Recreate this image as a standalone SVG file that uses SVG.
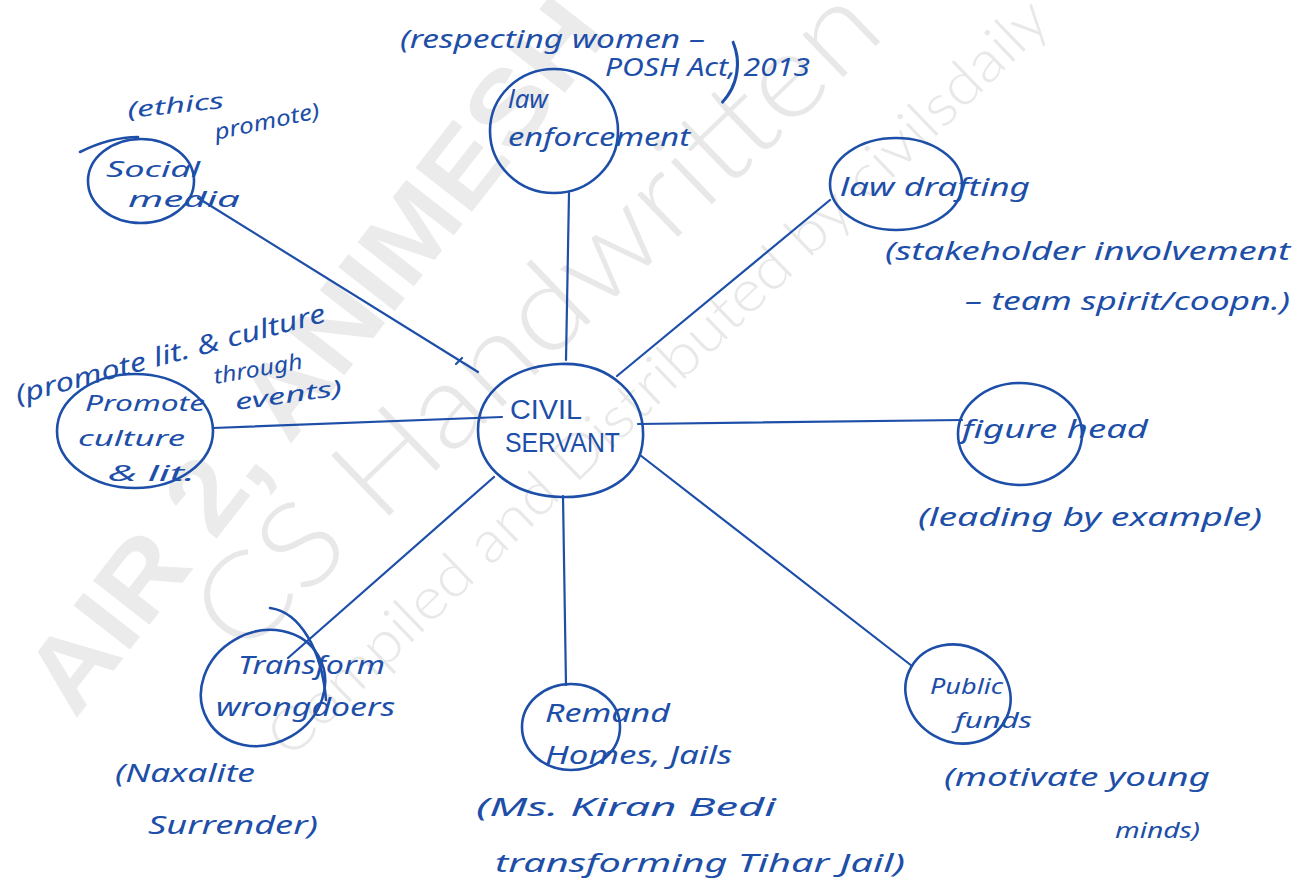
<svg xmlns="http://www.w3.org/2000/svg" width="1307" height="896" viewBox="0 0 1307 896">
  <style>
    .ink { fill: none; stroke: #1d4ea8; stroke-width: 2.6; stroke-linecap: round; }
    .wire { fill: none; stroke: #1d4ea8; stroke-width: 2.2; stroke-linecap: round; }
    .t { fill: #1d4ea8; font-family: "Noto Sans", "Liberation Sans", sans-serif; font-size: 26px; font-style: italic; }
    .s { font-size: 22px; }
    .c { fill: #1d4ea8; font-family: "Liberation Sans", sans-serif; font-size: 27px; }
    .br { fill: #1d4ea8; font-family: "Lato", "Roboto", sans-serif; font-weight: 300; }
    .wm1 { fill: #ebebeb; font-family: "Liberation Sans", sans-serif; font-weight: bold; font-size: 104px; }
    .wm2 { fill: #e8e8e8; font-family: "Lato", "Roboto", sans-serif; font-weight: 300; font-size: 118px; }
    .wm3 { fill: #e8e8e8; font-family: "Lato", "Roboto", sans-serif; font-weight: 300; font-size: 58px; }
  </style>
  <rect width="1307" height="896" fill="#ffffff"/>

  <!-- background watermark lettering -->
  <g id="watermark">
    <text class="wm1" transform="translate(75,720) rotate(-52)" textLength="870" lengthAdjust="spacingAndGlyphs">AIR 2, ANIMESH</text>
    <text class="wm2" transform="translate(240,660) rotate(-44)" textLength="900" lengthAdjust="spacingAndGlyphs">CS Handwritten</text>
    <text class="wm3" transform="translate(290,760) rotate(-44)" textLength="1060" lengthAdjust="spacingAndGlyphs">Compiled and Distributed by civilsdaily</text>
  </g>

  <!-- spokes from the central node -->
  <g id="connectors">
    <path class="wire" d="M198,198 L478,372"/>
    <path class="wire" d="M456,364 L462,358"/>
    <path class="wire" d="M569,193 L566,360"/>
    <path class="wire" d="M830,200 L617,376"/>
    <path class="wire" d="M213,428 L502,417"/>
    <path class="wire" d="M638,424 L962,420"/>
    <path class="wire" d="M640,455 L912,666"/>
    <path class="wire" d="M563,496 L566,685"/>
    <path class="wire" d="M494,477 L288,658"/>
  </g>

  <g id="civil-servant">
    <path class="ink" d="M560,364 C610,362 645,395 643,438 C641,478 605,498 562,497 C515,496 478,470 478,430 C478,392 512,366 560,364 Z"/>
    <text class="c" x="510" y="419" textLength="72" lengthAdjust="spacingAndGlyphs">CIVIL</text>
    <text class="c" x="505" y="452" textLength="115" lengthAdjust="spacingAndGlyphs">SERVANT</text>
  </g>

  <g id="social-media">
    <ellipse class="ink" cx="141" cy="181" rx="53" ry="42"/>
    <path class="ink" d="M80,152 C100,142 120,137 138,137"/>
    <text class="t s" x="106" y="177" textLength="94" lengthAdjust="spacingAndGlyphs">Social</text>
    <text class="t s" x="128" y="207" textLength="112" lengthAdjust="spacingAndGlyphs">media</text>
    <text class="t s" x="128" y="118" transform="rotate(-6 128 118)" textLength="97" lengthAdjust="spacingAndGlyphs">(ethics</text>
    <text class="t s" x="216" y="140" transform="rotate(-12 216 140)" textLength="107" lengthAdjust="spacingAndGlyphs">promote)</text>
  </g>

  <g id="law-enforcement">
    <ellipse class="ink" cx="554" cy="131" rx="64" ry="62"/>
    <text class="t" x="508" y="108" textLength="40" lengthAdjust="spacingAndGlyphs">law</text>
    <text class="t" x="508" y="146" textLength="182" lengthAdjust="spacingAndGlyphs">enforcement</text>
    <text class="t" x="400" y="48" textLength="305" lengthAdjust="spacingAndGlyphs">(respecting women –</text>
    <text class="t" x="605" y="76" textLength="205" lengthAdjust="spacingAndGlyphs">POSH Act, 2013</text>
    <text class="br" x="724" y="96" font-size="72" transform="rotate(10 735 70)">)</text>
  </g>

  <g id="law-drafting">
    <ellipse class="ink" cx="896" cy="184" rx="66" ry="46"/>
    <text class="t" x="840" y="196" textLength="190" lengthAdjust="spacingAndGlyphs">law drafting</text>
    <text class="t" x="885" y="260" textLength="405" lengthAdjust="spacingAndGlyphs">(stakeholder involvement</text>
    <text class="t" x="965" y="310" textLength="325" lengthAdjust="spacingAndGlyphs">– team spirit/coopn.)</text>
  </g>

  <g id="figure-head">
    <ellipse class="ink" cx="1020" cy="434" rx="62" ry="51"/>
    <text class="t" x="962" y="438" textLength="186" lengthAdjust="spacingAndGlyphs">figure head</text>
    <text class="t" x="918" y="526" textLength="344" lengthAdjust="spacingAndGlyphs">(leading by example)</text>
  </g>

  <g id="public-funds">
    <ellipse class="ink" cx="958" cy="694" rx="54" ry="48" transform="rotate(30 958 694)"/>
    <text class="t s" x="930" y="694" textLength="73" lengthAdjust="spacingAndGlyphs">Public</text>
    <text class="t s" x="955" y="728" textLength="77" lengthAdjust="spacingAndGlyphs">funds</text>
    <text class="t" x="944" y="786" textLength="266" lengthAdjust="spacingAndGlyphs">(motivate young</text>
    <text class="t s" x="1115" y="838" textLength="85" lengthAdjust="spacingAndGlyphs">minds)</text>
  </g>

  <g id="remand-homes">
    <ellipse class="ink" cx="571" cy="727" rx="49" ry="43"/>
    <text class="t" x="545" y="722" textLength="125" lengthAdjust="spacingAndGlyphs">Remand</text>
    <text class="t" x="545" y="764" textLength="187" lengthAdjust="spacingAndGlyphs">Homes, Jails</text>
    <text class="t" x="476" y="816" textLength="300" lengthAdjust="spacingAndGlyphs">(Ms. Kiran Bedi</text>
    <text class="t" x="495" y="872" textLength="410" lengthAdjust="spacingAndGlyphs">transforming Tihar Jail)</text>
  </g>

  <g id="transform-wrongdoers">
    <ellipse class="ink" cx="263" cy="688" rx="64" ry="56" transform="rotate(-30 263 688)"/>
    <path class="ink" d="M270,608 C300,612 322,650 326,700"/>
    <text class="t" x="238" y="674" textLength="147" lengthAdjust="spacingAndGlyphs">Transform</text>
    <text class="t" x="216" y="716" textLength="179" lengthAdjust="spacingAndGlyphs">wrongdoers</text>
    <text class="t" x="115" y="782" textLength="140" lengthAdjust="spacingAndGlyphs">(Naxalite</text>
    <text class="t" x="148" y="834" textLength="170" lengthAdjust="spacingAndGlyphs">Surrender)</text>
  </g>

  <g id="promote-culture">
    <ellipse class="ink" cx="135" cy="431" rx="78" ry="57"/>
    <text class="t s" x="85" y="411" textLength="120" lengthAdjust="spacingAndGlyphs">Promote</text>
    <text class="t s" x="78" y="446" textLength="107" lengthAdjust="spacingAndGlyphs">culture</text>
    <text class="t s" x="108" y="481" textLength="87" lengthAdjust="spacingAndGlyphs">&amp; lit.</text>
    <text class="t" x="18" y="404" transform="rotate(-15 18 404)" textLength="320" lengthAdjust="spacingAndGlyphs">(promote lit. &amp; culture</text>
    <text class="t s" x="215" y="384" transform="rotate(-10 215 384)" textLength="90" lengthAdjust="spacingAndGlyphs">through</text>
    <text class="t s" x="236" y="410" transform="rotate(-8 236 410)" textLength="108" lengthAdjust="spacingAndGlyphs">events)</text>
  </g>
</svg>
